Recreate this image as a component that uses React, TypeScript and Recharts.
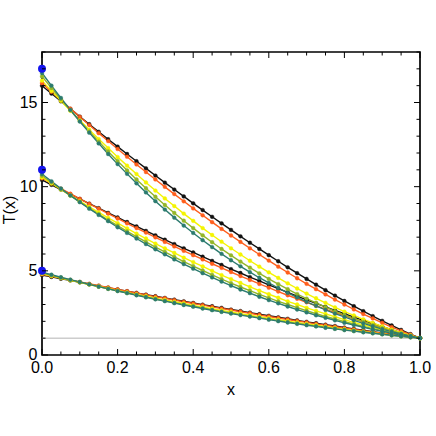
import React from 'react';
import {
  ComposedChart,
  Line,
  XAxis,
  YAxis,
  ReferenceLine,
  ReferenceDot,
  ReferenceArea,
  Label
} from 'recharts';

// ============================================================================
// Data
// ============================================================================

const xs = [
  0, 0.025, 0.05, 0.075, 0.1, 0.125, 0.15, 0.175, 0.2, 0.225, 0.25, 0.275, 0.3, 0.325,
  0.35, 0.375, 0.4, 0.425, 0.45, 0.475, 0.5, 0.525, 0.55, 0.575, 0.6, 0.625, 0.65, 0.675,
  0.7, 0.725, 0.75, 0.775, 0.8, 0.825, 0.85, 0.875, 0.9, 0.925, 0.95, 0.975, 1
];

// T(0) ~ 17
const topBlack = [16.0, 15.53, 15.07, 14.62, 14.16, 13.71, 13.26, 12.82, 12.38, 11.94, 11.51, 11.09, 10.66, 10.24, 9.83, 9.42, 9.01, 8.61, 8.21, 7.82, 7.43, 7.05, 6.67, 6.3, 5.93, 5.57, 5.21, 4.86, 4.52, 4.18, 3.85, 3.53, 3.21, 2.9, 2.6, 2.31, 2.03, 1.76, 1.49, 1.24, 1.0];
const topRed = [16.15, 15.64, 15.14, 14.64, 14.15, 13.66, 13.18, 12.71, 12.24, 11.78, 11.32, 10.87, 10.43, 9.99, 9.56, 9.13, 8.71, 8.3, 7.89, 7.49, 7.1, 6.72, 6.34, 5.97, 5.61, 5.25, 4.9, 4.56, 4.23, 3.91, 3.6, 3.29, 3.0, 2.71, 2.43, 2.17, 1.91, 1.66, 1.43, 1.21, 1.0];
const topYellow = [16.3, 15.69, 15.1, 14.51, 13.94, 13.38, 12.83, 12.29, 11.76, 11.25, 10.75, 10.25, 9.77, 9.3, 8.85, 8.4, 7.97, 7.54, 7.13, 6.73, 6.34, 5.97, 5.6, 5.25, 4.91, 4.58, 4.26, 3.95, 3.65, 3.37, 3.1, 2.83, 2.58, 2.35, 2.12, 1.9, 1.7, 1.51, 1.33, 1.16, 1.0];
const topOlive = [16.55, 15.86, 15.19, 14.54, 13.9, 13.28, 12.68, 12.09, 11.52, 10.97, 10.43, 9.91, 9.4, 8.91, 8.44, 7.98, 7.54, 7.11, 6.7, 6.3, 5.92, 5.55, 5.19, 4.85, 4.52, 4.21, 3.91, 3.62, 3.35, 3.09, 2.84, 2.6, 2.38, 2.17, 1.97, 1.78, 1.6, 1.44, 1.28, 1.13, 1.0];
const topTeal = [16.75, 16.0, 15.27, 14.56, 13.87, 13.21, 12.57, 11.94, 11.34, 10.76, 10.2, 9.66, 9.14, 8.64, 8.16, 7.69, 7.25, 6.82, 6.41, 6.01, 5.63, 5.27, 4.92, 4.59, 4.28, 3.98, 3.69, 3.42, 3.16, 2.92, 2.68, 2.46, 2.26, 2.06, 1.88, 1.71, 1.54, 1.39, 1.25, 1.12, 1.0];

// T(0) ~ 11
const midBlack = [10.4, 10.11, 9.83, 9.55, 9.27, 8.99, 8.72, 8.44, 8.17, 7.9, 7.64, 7.37, 7.11, 6.85, 6.59, 6.34, 6.09, 5.84, 5.59, 5.35, 5.1, 4.87, 4.63, 4.4, 4.17, 3.94, 3.72, 3.5, 3.28, 3.07, 2.86, 2.65, 2.45, 2.25, 2.06, 1.87, 1.69, 1.51, 1.33, 1.16, 1.0];
const midRed = [10.5, 10.19, 9.88, 9.58, 9.28, 8.98, 8.69, 8.4, 8.11, 7.82, 7.54, 7.27, 6.99, 6.72, 6.45, 6.19, 5.93, 5.68, 5.42, 5.18, 4.93, 4.69, 4.46, 4.22, 4.0, 3.77, 3.55, 3.34, 3.13, 2.92, 2.72, 2.52, 2.33, 2.15, 1.97, 1.79, 1.62, 1.46, 1.3, 1.15, 1.0];
const midYellow = [10.55, 10.19, 9.83, 9.48, 9.14, 8.8, 8.47, 8.15, 7.83, 7.52, 7.21, 6.92, 6.62, 6.34, 6.06, 5.78, 5.52, 5.26, 5.0, 4.75, 4.51, 4.28, 4.05, 3.82, 3.61, 3.4, 3.19, 3.0, 2.8, 2.62, 2.44, 2.27, 2.1, 1.94, 1.79, 1.64, 1.5, 1.37, 1.24, 1.12, 1.0];
const midOlive = [10.65, 10.25, 9.85, 9.47, 9.1, 8.73, 8.37, 8.02, 7.69, 7.35, 7.03, 6.72, 6.41, 6.12, 5.83, 5.55, 5.28, 5.02, 4.76, 4.51, 4.27, 4.04, 3.82, 3.6, 3.39, 3.19, 3.0, 2.81, 2.63, 2.46, 2.29, 2.14, 1.98, 1.84, 1.7, 1.57, 1.44, 1.32, 1.21, 1.1, 1.0];
const midTeal = [10.75, 10.32, 9.89, 9.48, 9.08, 8.69, 8.32, 7.95, 7.59, 7.25, 6.92, 6.59, 6.28, 5.98, 5.68, 5.4, 5.13, 4.86, 4.61, 4.36, 4.12, 3.89, 3.67, 3.46, 3.26, 3.07, 2.88, 2.7, 2.53, 2.36, 2.21, 2.06, 1.91, 1.78, 1.65, 1.52, 1.41, 1.3, 1.19, 1.09, 1.0];

// T(0) ~ 5
const botBlack = [4.75, 4.64, 4.53, 4.43, 4.32, 4.21, 4.11, 4.0, 3.9, 3.79, 3.69, 3.59, 3.49, 3.39, 3.29, 3.19, 3.09, 2.99, 2.9, 2.8, 2.7, 2.61, 2.52, 2.42, 2.33, 2.24, 2.15, 2.06, 1.97, 1.89, 1.8, 1.72, 1.63, 1.55, 1.47, 1.39, 1.31, 1.23, 1.15, 1.08, 1.0];
const botRed = [4.8, 4.68, 4.57, 4.45, 4.34, 4.23, 4.12, 4.01, 3.9, 3.79, 3.68, 3.57, 3.47, 3.37, 3.26, 3.16, 3.06, 2.96, 2.86, 2.76, 2.67, 2.57, 2.48, 2.38, 2.29, 2.2, 2.11, 2.02, 1.94, 1.85, 1.77, 1.68, 1.6, 1.52, 1.44, 1.37, 1.29, 1.22, 1.14, 1.07, 1.0];
const botYellow = [4.83, 4.7, 4.57, 4.44, 4.32, 4.19, 4.07, 3.95, 3.83, 3.72, 3.6, 3.49, 3.38, 3.27, 3.16, 3.06, 2.95, 2.85, 2.75, 2.65, 2.56, 2.46, 2.37, 2.28, 2.19, 2.1, 2.01, 1.93, 1.85, 1.77, 1.69, 1.61, 1.54, 1.46, 1.39, 1.32, 1.25, 1.19, 1.12, 1.06, 1.0];
const botOlive = [4.87, 4.73, 4.59, 4.45, 4.32, 4.19, 4.06, 3.93, 3.81, 3.68, 3.57, 3.45, 3.33, 3.22, 3.11, 3.0, 2.9, 2.79, 2.69, 2.59, 2.5, 2.4, 2.31, 2.22, 2.13, 2.05, 1.96, 1.88, 1.8, 1.72, 1.65, 1.57, 1.5, 1.43, 1.37, 1.3, 1.24, 1.17, 1.11, 1.06, 1.0];
const botTeal = [4.92, 4.77, 4.62, 4.48, 4.34, 4.2, 4.06, 3.93, 3.8, 3.68, 3.55, 3.43, 3.31, 3.2, 3.08, 2.97, 2.87, 2.76, 2.66, 2.56, 2.46, 2.37, 2.28, 2.19, 2.1, 2.01, 1.93, 1.85, 1.77, 1.7, 1.62, 1.55, 1.48, 1.42, 1.35, 1.29, 1.23, 1.17, 1.11, 1.05, 1.0];

// boundary values at x = 0 (blue dots) and the reference level T = 1
const boundaryValues = [5, 11, 17];
const baseLevel = 1;

const xTicks = [0, 0.05, 0.1, 0.15, 0.2, 0.25, 0.3, 0.35, 0.4, 0.45, 0.5, 0.55, 0.6, 0.65, 0.7, 0.75, 0.8, 0.85, 0.9, 0.95, 1];
const xLabelTicks = [0, 0.2, 0.4, 0.6, 0.8, 1];
const yTicks = [0, 1, 2, 3, 4, 5, 6, 7, 8, 9, 10, 11, 12, 13, 14, 15, 16, 17, 18];
const yLabelTicks = [0, 5, 10, 15];

// ============================================================================
// Styles
// ============================================================================

const COLORS = {
  black: '#111111',
  red: '#ff5e1c',
  yellow: '#f4f400',
  olive: '#93b628',
  teal: '#2c7b6f',
  dot: '#1414ee',
  base: '#b4b4b4'
};

const PLOT = { left: 42, top: 52, right: 420, bottom: 355 };
const W = 436;
const H = 436;

const SERIES = [
  { key: 'topBlack', values: topBlack, color: COLORS.black },
  { key: 'midBlack', values: midBlack, color: COLORS.black },
  { key: 'botBlack', values: botBlack, color: COLORS.black },
  { key: 'topRed', values: topRed, color: COLORS.red },
  { key: 'midRed', values: midRed, color: COLORS.red },
  { key: 'botRed', values: botRed, color: COLORS.red },
  { key: 'topYellow', values: topYellow, color: COLORS.yellow },
  { key: 'midYellow', values: midYellow, color: COLORS.yellow },
  { key: 'botYellow', values: botYellow, color: COLORS.yellow },
  { key: 'topOlive', values: topOlive, color: COLORS.olive },
  { key: 'midOlive', values: midOlive, color: COLORS.olive },
  { key: 'botOlive', values: botOlive, color: COLORS.olive },
  { key: 'topTeal', values: topTeal, color: COLORS.teal },
  { key: 'midTeal', values: midTeal, color: COLORS.teal },
  { key: 'botTeal', values: botTeal, color: COLORS.teal }
];

const table = xs.map((x, i) => {
  const row: Record<string, number> = { x };
  SERIES.forEach(s => {
    row[s.key] = s.values[i];
  });
  return row;
});

const isIn = (list: number[], v: number) => list.some(t => Math.abs(t - v) < 1e-6);

// ============================================================================
// Ticks (inward frame ticks on all four sides)
// ============================================================================

const XTick = ({ x, payload }: any) => {
  const v = payload.value;
  const major = isIn(xLabelTicks, v);
  const len = major ? 6 : 3.5;
  return (
    <g>
      <line x1={x} x2={x} y1={PLOT.bottom} y2={PLOT.bottom - len} stroke="#000" strokeWidth={1} />
      <line x1={x} x2={x} y1={PLOT.top} y2={PLOT.top + len} stroke="#000" strokeWidth={1} />
      {major && (
        <text x={x} y={PLOT.bottom + 18} textAnchor="middle" fontSize={16} fill="#000">
          {v.toFixed(1)}
        </text>
      )}
    </g>
  );
};

const YTick = ({ y, payload }: any) => {
  const v = payload.value;
  const major = isIn(yLabelTicks, v);
  const len = major ? 6 : 3.5;
  return (
    <g>
      <line x1={PLOT.left} x2={PLOT.left + len} y1={y} y2={y} stroke="#000" strokeWidth={1} />
      <line x1={PLOT.right} x2={PLOT.right - len} y1={y} y2={y} stroke="#000" strokeWidth={1} />
      {major && (
        <text x={PLOT.left - 4.5} y={y + 5.2} textAnchor="end" fontSize={16} fill="#000">
          {v}
        </text>
      )}
    </g>
  );
};

// ============================================================================
// Component
// ============================================================================

export default function App() {
  return (
    <div
      style={{
        position: 'absolute',
        left: 0,
        top: 0,
        width: W,
        height: H,
        background: '#fff',
        fontFamily: '"Liberation Sans", Arial, sans-serif'
      }}
    >
      <ComposedChart
        width={W}
        height={H}
        data={table}
        margin={{ top: PLOT.top, right: W - PLOT.right, bottom: 0, left: 0 }}
      >
        <XAxis
          dataKey="x"
          type="number"
          domain={[0, 1]}
          ticks={xTicks}
          interval={0}
          height={H - PLOT.bottom}
          tickLine={false}
          axisLine={false}
          tick={<XTick />}
        >
          <Label
            content={() => (
              <text x={(PLOT.left + PLOT.right) / 2} y={395} textAnchor="middle" fontSize={16} fill="#000">
                x
              </text>
            )}
          />
        </XAxis>
        <YAxis
          type="number"
          domain={[0, 18]}
          ticks={yTicks}
          interval={0}
          width={PLOT.left}
          tickLine={false}
          axisLine={false}
          tick={<YTick />}
        >
          <Label
            content={() => (
              <text
                x={15}
                y={210}
                transform="rotate(-90 15 210)"
                textAnchor="middle"
                fontSize={16}
                fill="#000"
              >
                T(x)
              </text>
            )}
          />
        </YAxis>

        <ReferenceLine y={baseLevel} stroke={COLORS.base} strokeWidth={1} />

        {SERIES.map(s => (
          <Line
            key={s.key}
            dataKey={s.key}
            type="linear"
            stroke={s.color}
            strokeWidth={1.4}
            dot={{ r: 1.9, fill: s.color, stroke: s.color, strokeWidth: 0.4 }}
            activeDot={false}
            isAnimationActive={false}
          />
        ))}

        <ReferenceArea
          x1={0}
          x2={1}
          y1={0}
          y2={18}
          fill="none"
          fillOpacity={0}
          stroke="#000"
          strokeWidth={1.7}
        />

        {boundaryValues.map(v => (
          <ReferenceDot key={v} x={0} y={v} r={4} fill={COLORS.dot} stroke="none" />
        ))}
      </ComposedChart>
    </div>
  );
}
